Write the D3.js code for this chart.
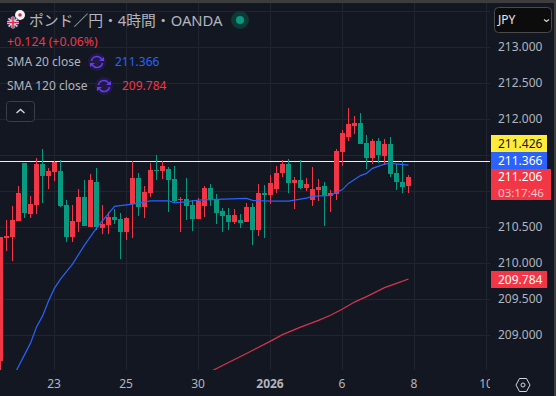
<!DOCTYPE html>
<html>
<head>
<meta charset="utf-8">
<script src="https://cdn.jsdelivr.net/npm/d3@7"></script>
<style>
  html, body { margin: 0; padding: 0; background: #131722; overflow: hidden; }
  svg { display: block; }
  text { font-family: "Noto Sans", "Noto Sans CJK JP", sans-serif; }
</style>
</head>
<body>
<svg id="chart" width="556" height="396"></svg>
<script>
// OHLC per 4h candle
const opens = [208.645,210.358,210.372,210.594,211.395,210.691,210.816,211.381,211.219,211.274,211.284,210.811,210.372,210.580,210.922,210.510,211.131,210.497,210.534,210.645,210.617,210.441,210.830,211.186,210.784,210.983,211.297,211.288,211.311,211.172,210.885,210.895,210.811,210.617,210.797,211.047,210.895,210.728,210.672,210.575,210.603,210.575,210.784,210.464,210.978,210.950,211.034,211.256,211.381,211.117,211.159,211.047,210.881,211.020,211.075,210.936,210.964,211.547,211.755,211.908,211.950,211.672,211.464,211.700,211.492,211.658,211.256,211.131,211.075];
const highs = [210.367,210.603,210.797,211.075,211.395,210.936,211.464,211.589,211.325,211.422,211.436,210.881,210.811,211.029,211.159,211.242,211.325,210.811,210.709,210.756,210.700,210.640,211.422,211.256,211.075,211.395,211.506,211.422,211.339,211.353,210.922,211.186,210.881,210.909,211.075,211.103,210.964,210.770,210.770,210.756,210.686,210.839,210.839,211.103,211.089,211.228,211.353,211.436,211.450,211.200,211.436,211.186,211.339,211.172,211.131,211.020,211.589,211.853,212.158,212.047,212.089,211.783,211.728,211.742,211.728,211.755,211.381,211.422,211.228];
const lows = [208.500,210.177,210.037,210.594,210.635,210.635,210.691,210.844,211.034,211.149,210.788,210.302,210.302,210.441,210.524,210.510,210.464,210.413,210.413,210.552,210.061,210.330,210.358,210.659,210.635,210.927,211.159,211.172,210.719,210.834,210.441,210.608,210.455,210.617,210.645,210.802,210.547,210.441,210.469,210.552,210.497,210.575,210.256,210.381,210.358,210.830,210.983,211.200,210.978,210.756,211.034,211.006,210.797,210.867,210.520,210.714,210.881,211.353,211.700,211.797,211.658,211.311,211.381,211.394,211.367,211.200,211.019,210.978,210.978];
const closes = [210.367,210.381,210.603,210.978,210.705,210.825,211.381,211.219,211.284,211.409,210.802,210.372,210.589,210.922,210.524,211.159,210.510,210.547,210.645,210.603,210.441,210.631,211.186,210.788,210.992,211.297,211.288,211.353,211.159,210.867,210.895,210.797,210.617,210.867,211.047,210.881,210.700,210.659,210.575,210.672,210.561,210.784,210.464,210.978,210.950,211.117,211.256,211.381,211.117,211.159,211.047,211.103,211.034,211.061,210.936,210.978,211.561,211.811,211.936,211.950,211.658,211.464,211.700,211.506,211.658,211.242,211.131,211.061,211.206];

// moving averages: candle index and value
const sma20Index = [2,5,6,7,8,9,10,12,14,16,19,22,25,28,29,30,33,36,41,42,45,48,51,52,55,57,58,60,61,62,64,65,68];
const sma20Values = [208.409,208.894,209.117,209.269,209.478,209.658,209.783,209.992,210.256,210.492,210.793,210.825,210.871,210.871,210.843,210.849,210.881,210.890,210.904,210.876,210.867,210.867,210.908,210.932,210.946,211.026,211.112,211.221,211.251,211.321,211.381,211.390,211.366];
const sma120Index = [35,38,41,45,47,50,53,55,57,59,61,64,66,68];
const sma120Values = [208.499,208.624,208.749,208.922,209.012,209.117,209.210,209.281,209.367,209.464,209.540,209.665,209.724,209.784];

const gridPrices = [213.5,213,212.5,212,211.5,211,210.5,210,209.5,209];
// 211.500 and 211.000 sit behind the price labels
const priceTicks = [213,212.5,212,210.5,210,209.5,209];
const dateIndex = [9,21,33,45,57,69,81];
const dateLabels = ["23","25","30","2026","6","8","10"];

const upColor = "#f23645";
const downColor = "#089981";
const bg = "#131722";
const gridColor = "#212530";
const plotW = 490, plotH = 370;

const svg = d3.select("#chart");

svg.append("rect").attr("width", 556).attr("height", 396).attr("fill", bg);

const x = d3.scaleLinear().domain([0, 68]).range([0.5, 408.5]);
const y = d3.scaleLinear().domain([213, 209]).range([47.5, 335.5]);

svg.append("clipPath").attr("id", "plot")
    .append("rect").attr("width", plotW).attr("height", plotH);

// grid
svg.append("g").selectAll("line")
    .data(gridPrices)
    .enter().append("line")
    .attr("x1", 0).attr("x2", plotW)
    .attr("y1", d => y(d)).attr("y2", d => y(d))
    .attr("stroke", gridColor);

svg.append("g").selectAll("line")
    .data(dateIndex)
    .enter().append("line")
    .attr("x1", d => x(d)).attr("x2", d => x(d))
    .attr("y1", 0).attr("y2", plotH)
    .attr("stroke", gridColor);

const plot = svg.append("g").attr("clip-path", "url(#plot)");

// yellow price line, goes under the candles
plot.append("line")
    .attr("x1", 0).attr("x2", plotW)
    .attr("y1", 161.5).attr("y2", 161.5)
    .attr("stroke", "#fff59d");

const candles = plot.selectAll(".candle")
    .data(opens.map((o, i) => ({ i: i, o: o, h: highs[i], l: lows[i], c: closes[i] })))
    .enter().append("g")
    .attr("class", "candle")
    .attr("fill", d => d.c >= d.o ? upColor : downColor);

candles.append("rect")
    .attr("x", d => x(d.i) - 0.5)
    .attr("width", 1)
    .attr("y", d => Math.round(y(d.h)))
    .attr("height", d => Math.max(1, Math.round(y(d.l)) - Math.round(y(d.h))));

candles.append("rect")
    .attr("x", d => x(d.i) - 2.5)
    .attr("width", 5)
    .attr("y", d => Math.round(y(Math.max(d.o, d.c))))
    .attr("height", d => Math.max(1, Math.round(y(Math.min(d.o, d.c))) - Math.round(y(Math.max(d.o, d.c)))));

const line = d3.line()
    .x(d => x(d[0]))
    .y(d => y(d[1]));

plot.append("path")
    .attr("d", line(d3.zip(sma20Index, sma20Values)))
    .attr("fill", "none")
    .attr("stroke", "#2962ff")
    .attr("stroke-width", 1.2);

plot.append("path")
    .attr("d", line(d3.zip(sma120Index, sma120Values)))
    .attr("fill", "none")
    .attr("stroke", "#d9344a")
    .attr("stroke-width", 1.2);

// price axis
const yAxis = svg.append("g")
    .attr("transform", `translate(${plotW},-0.5)`)
    .call(d3.axisRight(y).tickValues(priceTicks).tickSize(0).tickPadding(8).tickFormat(d3.format(".3f")));
yAxis.select(".domain").remove();
yAxis.selectAll("text").attr("fill", "#b2b5be").style("font-size", "12px");

// date axis, "10" is cut by the price axis
svg.append("clipPath").attr("id", "dates")
    .append("rect").attr("x", 0).attr("y", -1).attr("width", plotW + 1).attr("height", 40);

const xAxis = svg.append("g")
    .attr("transform", `translate(-1,${plotH})`)
    .attr("clip-path", "url(#dates)")
    .call(d3.axisBottom(x).tickValues(dateIndex).tickSize(0).tickPadding(9).tickFormat((d, i) => dateLabels[i]));
xAxis.select(".domain").remove();
xAxis.selectAll("text")
    .attr("fill", "#b2b5be")
    .style("font-size", "12px")
    .style("font-weight", (d, i) => dateLabels[i] === "2026" ? "700" : "400");

// price labels on the axis
const priceLabels = [
    { top: 135, h: 17, w: 56, fill: "#ffeb3b", color: "#131722", text: "211.426" },
    { top: 152, h: 17, w: 56, fill: "#2962ff", color: "#ffffff", text: "211.366" },
    { top: 271, h: 17, w: 56, fill: "#f23645", color: "#ffffff", text: "209.784" }
];
priceLabels.forEach(d => {
    svg.append("rect").attr("x", 491).attr("y", d.top).attr("width", d.w).attr("height", d.h).attr("fill", d.fill);
    svg.append("text").attr("x", 498).attr("y", d.top + 13).attr("fill", d.color).style("font-size", "12px").text(d.text);
});
svg.append("rect").attr("x", 491).attr("y", 169).attr("width", 60).attr("height", 31).attr("fill", "#f23645");
svg.append("text").attr("x", 498).attr("y", 181).attr("fill", "#ffffff").style("font-size", "12px").text("211.206");
svg.append("text").attr("x", 498).attr("y", 196.5).attr("fill", "#ffc2c7").style("font-size", "11.6px").text("03:17:46");

// currency button
svg.append("rect").attr("x", 494.5).attr("y", 7.5).attr("width", 57).attr("height", 25).attr("rx", 4)
    .attr("fill", "#0c0c0c").attr("stroke", "#4a4a4a");
svg.append("text").attr("x", 498).attr("y", 24).attr("fill", "#e6e8ee").style("font-size", "12px").text("JPY");
svg.append("path").attr("d", "M544 19.5l2.5 2 2.5-2").attr("fill", "none").attr("stroke", "#d1d4dc").attr("stroke-width", 1.2);

// settings hexagon
svg.append("path").attr("d", "M516 385l3.5-6.5h7l3.5 6.5-3.5 6.5h-7z").attr("fill", "none").attr("stroke", "#d1d4dc");
svg.append("circle").attr("cx", 523).attr("cy", 385).attr("r", 2).attr("fill", "none").attr("stroke", "#d1d4dc");

// legend
svg.append("circle").attr("cx", 20).attr("cy", 15).attr("r", 5).attr("fill", "#f5f5f5");
svg.append("circle").attr("cx", 20).attr("cy", 15).attr("r", 1.8).attr("fill", "#d7263d");
svg.append("clipPath").attr("id", "flag").append("circle").attr("cx", 13).attr("cy", 22.5).attr("r", 6);
const flag = svg.append("g").attr("clip-path", "url(#flag)");
flag.append("rect").attr("x", 6).attr("y", 16).attr("width", 14).attr("height", 13).attr("fill", "#33417e");
flag.append("path").attr("d", "M7 17L19 28M19 17L7 28").attr("stroke", "#e8c8cc").attr("stroke-width", 1.5);
flag.append("path").attr("d", "M13 16V29M6 22.5H20").attr("stroke", "#f0e6e8").attr("stroke-width", 3);
flag.append("path").attr("d", "M13 16V29M6 22.5H20").attr("stroke", "#d7263d").attr("stroke-width", 1.5);

svg.append("text").attr("x", 29).attr("y", 26).attr("fill", "#b2b5be").style("font-size", "14.8px").text("ポンド／円・4時間・OANDA");
svg.append("circle").attr("cx", 240).attr("cy", 20).attr("r", 9).attr("fill", "#0c3a35");
svg.append("circle").attr("cx", 240).attr("cy", 20).attr("r", 4).attr("fill", "#089981");

svg.append("text").attr("x", 7).attr("y", 46).attr("fill", upColor).style("font-size", "12.3px").text("+0.124 (+0.06%)");

function syncIcon(cx, cy) {
    svg.append("circle").attr("cx", cx).attr("cy", cy).attr("r", 9).attr("fill", "#211a45");
    svg.append("path")
        .attr("d", `M${cx - 5.5} ${cy - 1}A5.5 5.5 0 0 1 ${cx + 4.5} ${cy - 3}M${cx + 5.5} ${cy + 1}A5.5 5.5 0 0 1 ${cx - 4.5} ${cy + 3}`)
        .attr("fill", "none").attr("stroke", "#6a3cf5").attr("stroke-width", 1.5);
    svg.append("path").attr("d", `M${cx + 2} ${cy - 1}h5v-4z`).attr("fill", "#6a3cf5");
    svg.append("path").attr("d", `M${cx - 2} ${cy + 1}h-5v4z`).attr("fill", "#6a3cf5");
}

svg.append("text").attr("x", 7).attr("y", 66).attr("fill", "#b2b5be").style("font-size", "12px").text("SMA 20 close");
syncIcon(97, 62);
svg.append("text").attr("x", 115).attr("y", 66).attr("fill", "#2962ff").style("font-size", "12px").text("211.366");

svg.append("text").attr("x", 7).attr("y", 90).attr("fill", "#b2b5be").style("font-size", "12px").text("SMA 120 close");
syncIcon(104, 86);
svg.append("text").attr("x", 122).attr("y", 90).attr("fill", "#f23645").style("font-size", "12px").text("209.784");

svg.append("rect").attr("x", 6.5).attr("y", 101.5).attr("width", 28).attr("height", 20).attr("rx", 3)
    .attr("fill", bg).attr("stroke", "#3a3e4a");
svg.append("path").attr("d", "M16.5 113l4-3.5 4 3.5").attr("fill", "none").attr("stroke", "#d1d4dc").attr("stroke-width", 1.4);

// window edge
svg.append("rect").attr("width", 556).attr("height", 3).attr("fill", "#3d3d3d");
svg.append("rect").attr("x", 554).attr("width", 2).attr("height", 396).attr("fill", "#3d3d3d");
</script>
</body>
</html>
